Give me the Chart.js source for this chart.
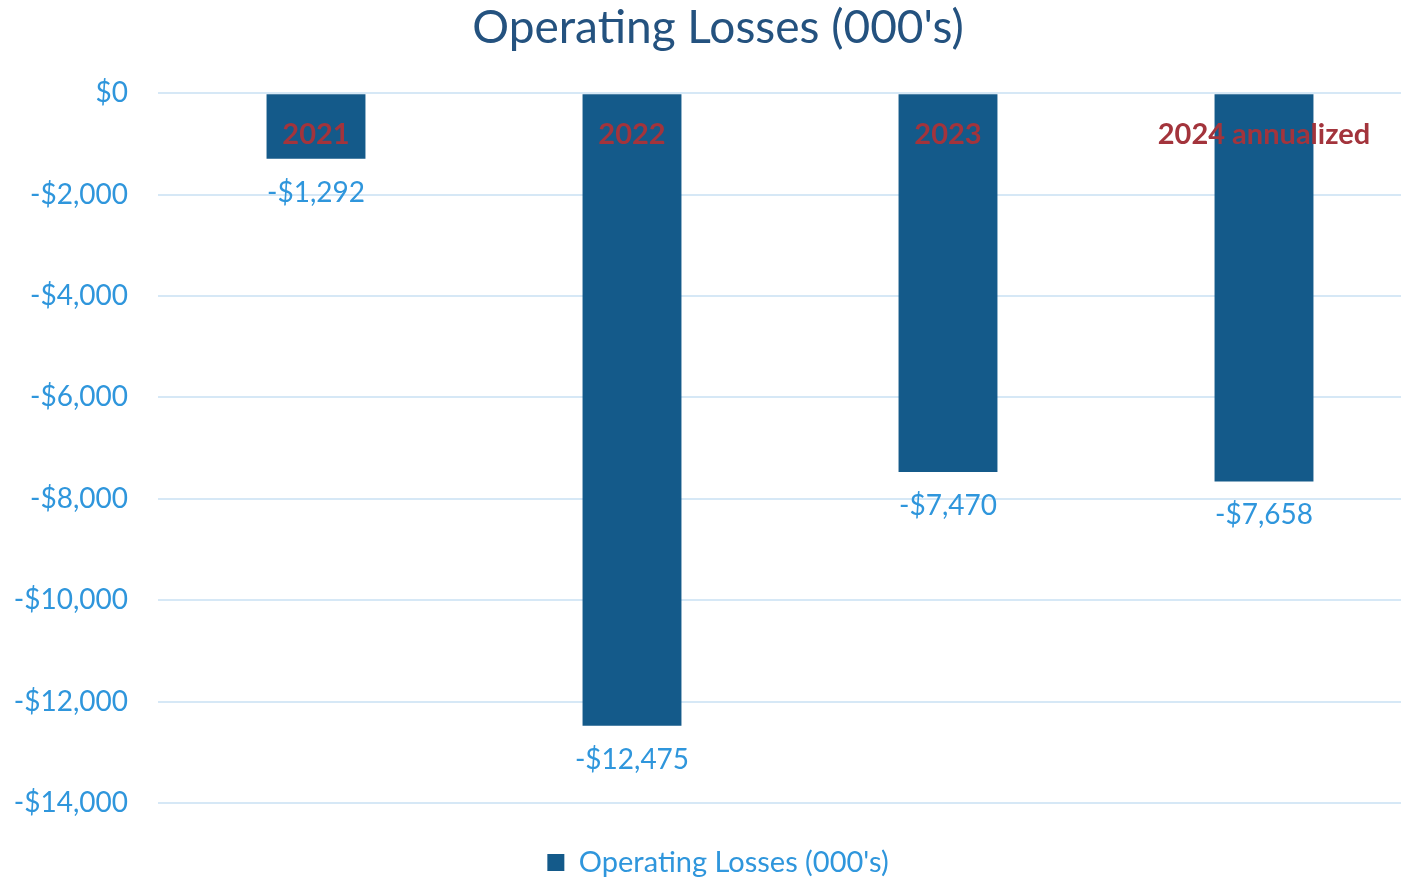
<!DOCTYPE html>
<html>
<head>
<meta charset="utf-8">
<script src="https://cdn.jsdelivr.net/npm/chart.js@4/dist/chart.umd.min.js"></script>
<style>
  html, body { margin: 0; padding: 0; background: #fff; overflow: hidden; }
</style>
</head>
<body>
<canvas id="chart" width="1448" height="887"></canvas>
<script>
const categories = ["2021", "2022", "2023", "2024 annualized"];
const losses = [-1292, -12475, -7470, -7658];
const seriesName = "Operating Losses (000's)";
const yTicks = [0, -2000, -4000, -6000, -8000, -10000, -12000, -14000];

const FONT = "Lato, 'Open Sans', sans-serif";

const money = (v) => {
  const s = Math.abs(v).toString().replace(/\B(?=(\d{3})+(?!\d))/g, ",");
  return (v < 0 ? "-$" : "$") + s;
};

// year labels on the bars and value labels under them
const barText = {
  id: "barText",
  afterDatasetsDraw(chart) {
    const { ctx, scales } = chart;
    const meta = chart.getDatasetMeta(0);
    ctx.save();
    ctx.textAlign = "center";
    ctx.textBaseline = "middle";
    meta.data.forEach((bar, i) => {
      const x = scales.x.getPixelForValue(i);
      ctx.font = "bold 29px " + FONT;
      ctx.fillStyle = "#A3343C";
      ctx.fillText(scales.x.getLabelForValue(i), x, scales.y.getPixelForValue(0) + 41);
      ctx.font = "28px " + FONT;
      ctx.fillStyle = "#2F96DC";
      ctx.fillText(money(losses[i]), x, bar.y + 34);
    });
    ctx.restore();
  }
};

new Chart(document.getElementById("chart"), {
  type: "bar",
  data: {
    labels: categories,
    datasets: [{
      label: seriesName,
      data: losses,
      backgroundColor: "#145A8A",
      categoryPercentage: 1,
      barPercentage: 0.313
    }]
  },
  options: {
    responsive: false,
    animation: false,
    layout: { padding: { left: 14, right: 26, top: 0, bottom: 0 } },
    scales: {
      x: { display: false },
      y: {
        min: -14000,
        max: 0,
        afterBuildTicks: (axis) => { axis.ticks = yTicks.map((v) => ({ value: v })); },
        afterFit: (axis) => { axis.width = 144; },
        ticks: {
          padding: 30,
          color: "#2F96DC",
          font: { family: FONT, size: 28 },
          callback: (v) => money(v)
        },
        grid: { color: "#D6E8F6", lineWidth: 2, drawTicks: false },
        border: { display: false }
      }
    },
    plugins: {
      title: {
        display: true,
        text: seriesName,
        color: "#24527F",
        font: { family: FONT, size: 46, weight: "normal" },
        padding: { top: 1, bottom: 37 }
      },
      legend: {
        position: "bottom",
        labels: {
          color: "#2F96DC",
          font: { family: FONT, size: 29 },
          boxWidth: 17,
          boxHeight: 17,
          padding: 45
        }
      },
      tooltip: { enabled: false }
    }
  },
  plugins: [barText]
});
</script>
</body>
</html>
